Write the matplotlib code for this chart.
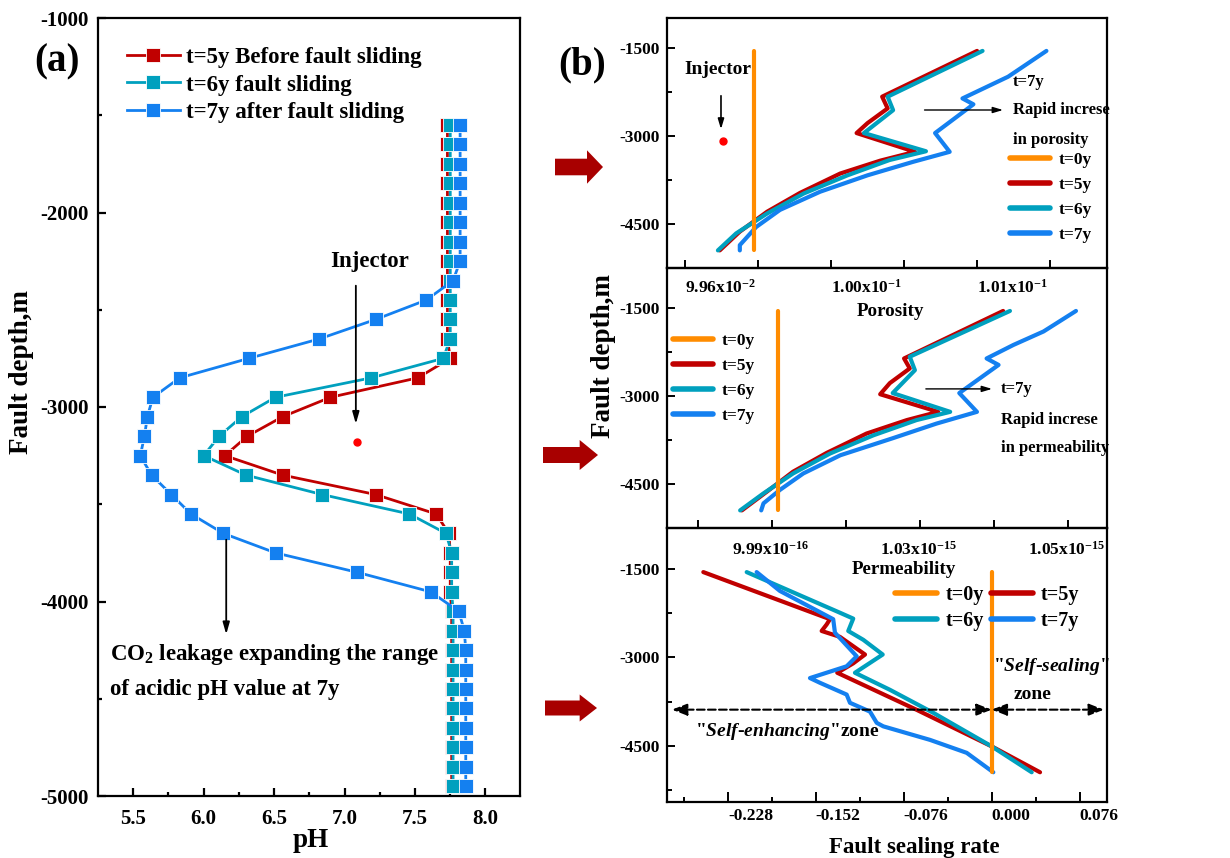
import matplotlib
matplotlib.use("Agg")
import matplotlib.pyplot as plt
from matplotlib.patches import FancyArrow

"""
pH profile along the fault (a) and porosity / permeability / sealing rate (b)
"""

plt.rcParams["font.family"] = ["Liberation Serif", "DejaVu Serif"]
plt.rcParams["font.weight"] = "bold"
plt.rcParams["mathtext.fontset"] = "custom"
plt.rcParams["mathtext.rm"] = "Liberation Serif:bold"
plt.rcParams["mathtext.it"] = "Liberation Serif:italic:bold"
plt.rcParams["mathtext.bf"] = "Liberation Serif:bold"
plt.rcParams["axes.linewidth"] = 1.6
plt.rcParams["axes.unicode_minus"] = False

RED = "#C00000"
CYAN = "#00A0BE"
BLUE = "#1480F0"
ORANGE = "#FF8C00"

# ---------------- panel (a): pH vs fault depth
depth_a = [-1550, -1650, -1750, -1850, -1950, -2050, -2150, -2250, -2350, -2450,
           -2550, -2650, -2750, -2850, -2950, -3050, -3150, -3250, -3350, -3450,
           -3550, -3650, -3750, -3850, -3950, -4050, -4150, -4250, -4350, -4450,
           -4550, -4650, -4750, -4850, -4950]
ph_t5 = [7.73, 7.73, 7.73, 7.73, 7.73, 7.73, 7.73, 7.73, 7.73, 7.73,
         7.73, 7.73, 7.75, 7.52, 6.90, 6.56, 6.31, 6.15, 6.56, 7.22,
         7.65, 7.74, 7.75, 7.75, 7.75, 7.76, 7.76, 7.76, 7.76, 7.76,
         7.76, 7.76, 7.76, 7.76, 7.76]
ph_t6 = [7.75, 7.75, 7.75, 7.75, 7.75, 7.75, 7.75, 7.75, 7.75, 7.75,
         7.75, 7.75, 7.70, 7.19, 6.51, 6.27, 6.11, 6.00, 6.30, 6.84,
         7.46, 7.72, 7.76, 7.76, 7.76, 7.77, 7.77, 7.77, 7.77, 7.77,
         7.77, 7.77, 7.77, 7.77, 7.77]
ph_t7 = [7.82, 7.82, 7.82, 7.82, 7.82, 7.82, 7.82, 7.82, 7.77, 7.58,
         7.22, 6.82, 6.32, 5.83, 5.64, 5.60, 5.58, 5.55, 5.63, 5.77,
         5.91, 6.14, 6.51, 7.09, 7.61, 7.81, 7.85, 7.86, 7.86, 7.86,
         7.86, 7.86, 7.86, 7.86, 7.86]
inj_ph, inj_depth = 7.09, -3180
labels_a = ["t=5y Before fault sliding", "t=6y fault sliding", "t=7y after fault sliding"]

# ---------------- panel (b) top: porosity
por_t0 = 0.09998
por_d5 = [-1550, -2330, -2530, -2780, -2950, -3270, -3420, -3640, -3970, -4290, -4630, -4950]
por_t5 = [0.10120, 0.10068, 0.10071, 0.10060, 0.10054, 0.10086, 0.10067, 0.10045,
          0.10023, 0.10005, 0.09990, 0.09979]
por_d6 = [-1550, -2330, -2560, -2950, -3260, -3410, -3670, -3980, -4320, -4660, -4950]
por_t6 = [0.10123, 0.10071, 0.10074, 0.10058, 0.10092, 0.10072, 0.10049, 0.10025,
          0.10005, 0.09988, 0.09978]
por_d7 = [-1550, -1990, -2360, -2460, -2950, -3270, -3440, -3670, -3950, -4260, -4550, -4860, -4950]
por_t7 = [0.10158, 0.10137, 0.10112, 0.10118, 0.10097, 0.10105, 0.10085, 0.10060,
          0.10034, 0.10012, 0.09999, 0.09990, 0.09990]
inj_por, inj_depth_b = 0.09981, -3085

# ---------------- panel (b) middle: permeability (x1e-15 m2)
perm_t0 = 1.000
perm_d5 = [-1550, -2360, -2530, -2780, -2970, -3270, -3410, -3640, -3970, -4290, -4630, -4950]
perm_t5 = [1.0396, 1.0222, 1.0232, 1.0197, 1.0180, 1.0282, 1.0227, 1.0156, 1.0086,
           1.0027, 0.9981, 0.9937]
perm_d6 = [-1550, -2330, -2560, -2950, -3270, -3410, -3670, -3980, -4320, -4660, -4950]
perm_t6 = [1.0408, 1.0232, 1.0241, 1.0202, 1.0303, 1.0244, 1.0168, 1.0092, 1.0027,
           0.9975, 0.9934]
perm_d7 = [-1550, -1900, -2130, -2360, -2470, -2950, -3270, -3470, -3720, -4010,
           -4320, -4600, -4830, -4950]
perm_t7 = [1.0524, 1.0467, 1.0414, 1.0367, 1.0388, 1.0319, 1.0350, 1.0279, 1.0202,
           1.0110, 1.0045, 1.0004, 0.9975, 0.9971]

# ---------------- panel (b) bottom: fault sealing rate
seal_t0 = 0.0
seal_d5 = [-1550, -2350, -2440, -2550, -2650, -2950, -3100, -3260, -3890, -4510, -4950]
seal_t5 = [-0.2493, -0.1398, -0.1427, -0.1470, -0.1312, -0.1095, -0.1197, -0.1335,
           -0.0648, 0.0000, 0.0418]
seal_d6 = [-1550, -2240, -2340, -2550, -2700, -2950, -3260, -3550, -3940, -4510, -4950]
seal_t6 = [-0.2118, -0.1312, -0.1197, -0.1240, -0.1110, -0.0942, -0.1182, -0.0879,
           -0.0505, 0.0000, 0.0346]
seal_d7 = [-1550, -1870, -2350, -2580, -2980, -3150, -3350, -3430, -3630, -3770,
           -3920, -4110, -4170, -4400, -4620, -4950]
seal_t7 = [-0.2032, -0.1831, -0.1370, -0.1355, -0.1167, -0.1254, -0.1571, -0.1485,
           -0.1254, -0.1225, -0.1052, -0.0994, -0.0937, -0.0533, -0.0216, 0.0014]

t0_depth = [-1550, -4950]

W, H = 1230, 858
fig = plt.figure(figsize=(W / 100, H / 100), dpi=100)
inch = fig.dpi_scale_trans


def add_ax(l, t, r, b):
    ax = fig.add_axes([l / W, (H - b) / H, (r - l) / W, (b - t) / H])
    ax.set_facecolor("none")
    return ax


def px(x, y):
    return x / 100.0, (H - y) / 100.0


# ================= panel (a)
axa = add_ax(98, 18, 520, 796)
for ph, col, lab in zip([ph_t5, ph_t6, ph_t7], [RED, CYAN, BLUE], labels_a):
    axa.plot(ph, depth_a, "-s", color=col, lw=2, ms=9.5, mec="white", mew=0.6, label=lab)
axa.plot(inj_ph, inj_depth, "o", color="red", ms=5)
axa.set_xlim(5.25, 8.245)
axa.set_ylim(-5000, -1000)
axa.set_xticks([5.5, 6.0, 6.5, 7.0, 7.5, 8.0])
axa.set_xticks([5.75, 6.25, 6.75, 7.25, 7.75], minor=True)
axa.set_yticks([-5000, -4000, -3000, -2000, -1000])
axa.set_yticks([-4500, -3500, -2500, -1500], minor=True)
axa.tick_params(which="both", direction="in", labelsize=15, width=1.6)
axa.tick_params(which="major", length=6)
axa.tick_params(which="minor", length=3)
axa.tick_params(axis="y", pad=7)
axa.tick_params(axis="x", pad=9)
axa.legend(loc="upper left", bbox_to_anchor=(0.0687, 0.963), frameon=False, fontsize=16.5,
           handlelength=2.3, handletextpad=0.26, labelspacing=0.29, borderpad=0,
           borderaxespad=0, numpoints=1)
axa.text(7.18, -2254, "Injector", fontsize=16.5, ha="center", va="center")
axa.annotate("", xy=(7.08, -3101), xytext=(7.08, -2362),
             arrowprops=dict(arrowstyle="-|>,head_length=0.7,head_width=0.2", color="black", lw=1.3))
axa.annotate("", xy=(6.16, -4183), xytext=(6.16, -3668),
             arrowprops=dict(arrowstyle="-|>,head_length=0.7,head_width=0.2", color="black", lw=1.3))
axa.text(5.337, -4275, "CO$_2$ leakage expanding the range", fontsize=16.5, ha="left", va="center")
axa.text(5.337, -4455, "of acidic pH value at 7y", fontsize=16.5, ha="left", va="center")

# ================= panel (b) common
lw_b = 3
axb1 = add_ax(667, 18, 1107, 268)
axb2 = add_ax(667, 268, 1107, 528)
axb3 = add_ax(667, 528, 1107, 802)
for ax in (axb1, axb2, axb3):
    ax.set_yticks([-4500, -3000, -1500])
    ax.set_yticks([-5250, -3750, -2250], minor=True)
    ax.tick_params(which="both", direction="in", labelsize=12.5, width=1.4)
    ax.tick_params(axis="y", which="major", length=6, pad=5)
    ax.tick_params(axis="y", which="minor", length=3.5)

# top: porosity
axb1.plot(por_t5, por_d5, color=RED, lw=lw_b, solid_capstyle="round")
axb1.plot(por_t6, por_d6, color=CYAN, lw=lw_b, solid_capstyle="round")
axb1.plot(por_t7, por_d7, color=BLUE, lw=lw_b, solid_capstyle="round")
axb1.plot([por_t0, por_t0], t0_depth, color=ORANGE, lw=lw_b, solid_capstyle="round")
axb1.plot(inj_por, inj_depth_b, "o", color="red", ms=5)
axb1.set_xlim(0.099501, 0.101912)
axb1.set_ylim(-5250, -989)
axb1.set_xticks([0.0996, 0.1004, 0.1012],
                [r"9.96x10$^{-2}$", r"1.00x10$^{-1}$", r"1.01x10$^{-1}$"])
axb1.set_xticks([0.1000, 0.1008, 0.1016], minor=True)
axb1.tick_params(axis="x", which="both", length=6, pad=8)
for t in axb1.get_xticklabels():
    t.set_ha("left")
h0, = axb1.plot([], [], color=ORANGE, lw=4, solid_capstyle="round")
h5, = axb1.plot([], [], color=RED, lw=4, solid_capstyle="round")
h6, = axb1.plot([], [], color=CYAN, lw=4, solid_capstyle="round")
h7, = axb1.plot([], [], color=BLUE, lw=4, solid_capstyle="round")
tlabels = ["t=0y", "t=5y", "t=6y", "t=7y"]
axb1.legend([h0, h5, h6, h7], tlabels, loc="upper left", bbox_to_anchor=(0.78, 0.464),
            frameon=False, fontsize=12.5, handlelength=2.3, handletextpad=0.5,
            labelspacing=0.5, borderpad=0, borderaxespad=0)
axb1.text(0.116, 0.796, "Injector", transform=axb1.transAxes, fontsize=14, ha="center", va="center")
axb1.annotate("", xy=(0.1227, 0.544), xytext=(0.1227, 0.70), xycoords="axes fraction",
              arrowprops=dict(arrowstyle="-|>,head_length=0.6,head_width=0.18", color="black", lw=1.2))
axb1.annotate("", xy=(0.770, 0.632), xytext=(0.579, 0.632), xycoords="axes fraction",
              arrowprops=dict(arrowstyle="-|>,head_length=0.6,head_width=0.18", color="black", lw=1.0))
axb1.text(0.786, 0.744, "t=7y", transform=axb1.transAxes, fontsize=12, va="center")
axb1.text(0.786, 0.632, "Rapid increse", transform=axb1.transAxes, fontsize=12, va="center")
axb1.text(0.786, 0.512, "in porosity", transform=axb1.transAxes, fontsize=12, va="center")

# middle: permeability
axb2.plot(perm_t5, perm_d5, color=RED, lw=lw_b, solid_capstyle="round")
axb2.plot(perm_t6, perm_d6, color=CYAN, lw=lw_b, solid_capstyle="round")
axb2.plot(perm_t7, perm_d7, color=BLUE, lw=lw_b, solid_capstyle="round")
axb2.plot([perm_t0, perm_t0], t0_depth, color=ORANGE, lw=lw_b, solid_capstyle="round")
axb2.set_xlim(0.98055, 1.05785)
axb2.set_ylim(-5250, -818)
axb2.set_xticks([0.9920, 1.0180, 1.0440],
                [r"9.99x10$^{-16}$", r"1.03x10$^{-15}$", r"1.05x10$^{-15}$"])
axb2.set_xticks([0.986, 0.999, 1.012, 1.025, 1.038, 1.051], minor=True)
axb2.tick_params(axis="x", which="major", length=0, pad=9)
axb2.tick_params(axis="x", which="minor", length=6)
for t in axb2.get_xticklabels():
    t.set_ha("left")
axb2.legend([h0, h5, h6, h7], tlabels, loc="upper left", bbox_to_anchor=(0.0136, 0.75),
            frameon=False, fontsize=12.5, handlelength=2.3, handletextpad=0.5,
            labelspacing=0.5, borderpad=0, borderaxespad=0)
axb2.annotate("", xy=(0.745, 0.535), xytext=(0.582, 0.535), xycoords="axes fraction",
              arrowprops=dict(arrowstyle="-|>,head_length=0.6,head_width=0.18", color="black", lw=1.0))
axb2.text(0.759, 0.535, "t=7y", transform=axb2.transAxes, fontsize=12, va="center")
axb2.text(0.759, 0.415, "Rapid increse", transform=axb2.transAxes, fontsize=12, va="center")
axb2.text(0.759, 0.308, "in permeability", transform=axb2.transAxes, fontsize=12, va="center")

# bottom: fault sealing rate
axb3.plot(seal_t5, seal_d5, color=RED, lw=lw_b, solid_capstyle="round")
axb3.plot(seal_t6, seal_d6, color=CYAN, lw=lw_b, solid_capstyle="round")
axb3.plot(seal_t7, seal_d7, color=BLUE, lw=lw_b, solid_capstyle="round")
axb3.plot([seal_t0, seal_t0], t0_depth, color=ORANGE, lw=lw_b, solid_capstyle="round")
axb3.set_xlim(-0.2807, 0.0997)
axb3.set_ylim(-5455, -801)
axb3.set_xticks([-0.228, -0.152, -0.076, 0.0, 0.076],
                ["-0.228", "-0.152", "-0.076", "0.000", "0.076"])
axb3.set_xticks([-0.266, -0.190, -0.114, -0.038, 0.038], minor=True)
axb3.tick_params(axis="x", which="major", length=7.5, pad=4)
axb3.tick_params(axis="x", which="minor", length=3.5)
for t in axb3.get_xticklabels():
    t.set_ha("left")
axb3.legend([h0, h6, h5, h7], ["t=0y", "t=6y", "t=5y", "t=7y"], ncol=2, loc="upper left",
            bbox_to_anchor=(0.518, 0.791), frameon=False, fontsize=14.5, handlelength=2.1,
            handletextpad=0.4, labelspacing=0.3, columnspacing=0.35, borderpad=0,
            borderaxespad=0)
dash_arrow = dict(arrowstyle="<|-|>,head_length=0.9,head_width=0.35", color="black",
                  lw=1.5, ls="--", shrinkA=0, shrinkB=0)
axb3.annotate("", xy=(0.0, 0.337), xytext=(-0.2764, 0.337),
              xycoords=("data", "axes fraction"), textcoords=("data", "axes fraction"),
              arrowprops=dash_arrow)
axb3.annotate("", xy=(0.0971, 0.337), xytext=(0.0, 0.337),
              xycoords=("data", "axes fraction"), textcoords=("data", "axes fraction"),
              arrowprops=dash_arrow)
axb3.text(0.064, 0.256, r'"$\mathit{Self}$-$\mathit{enhancing}$"zone', transform=axb3.transAxes,
          fontsize=14, ha="left", va="center")
axb3.text(0.873, 0.495, r'"$\mathit{Self}$-$\mathit{sealing}$"', transform=axb3.transAxes,
          fontsize=14, ha="center", va="center")
axb3.text(0.830, 0.392, "zone", transform=axb3.transAxes, fontsize=14, ha="center", va="center")

# ================= figure-level text
fig.text(*px(57, 62), "(a)", transform=inch, fontsize=28, ha="center", va="center")
fig.text(*px(582, 65), "(b)", transform=inch, fontsize=28, ha="center", va="center")
fig.text(*px(22, 372), "Fault depth,m", transform=inch, fontsize=19.5, rotation=90,
         ha="center", va="center")
fig.text(*px(603, 356), "Fault depth,m", transform=inch, fontsize=19.5, rotation=90,
         ha="center", va="center")
fig.text(*px(311, 847), "pH", transform=inch, fontsize=19.5, ha="center", va="baseline")
fig.text(*px(914, 853), "Fault sealing rate", transform=inch, fontsize=16.5, ha="center",
         va="baseline")
fig.text(*px(890, 311), "Porosity", transform=inch, fontsize=13.7, ha="center", va="center")
fig.text(*px(904, 570), "Permeability", transform=inch, fontsize=13.7, ha="center", va="center")

# big red arrows between the panels (tail x, tip x, centre y, body half, head half)
for x0, x1, yc, bh, hh in [(555, 603, 167, 8.3, 16.7), (543, 598, 455, 8, 15), (545, 597, 708, 7.5, 13.5)]:
    hl = (x1 - x0) / 3.0
    fig.patches.append(FancyArrow(x0 / 100, (H - yc) / 100, (x1 - x0) / 100, 0,
                                  width=2 * bh / 100, head_width=2 * hh / 100,
                                  head_length=hl / 100, length_includes_head=True,
                                  transform=inch, color="#A80000", lw=0))

fig.savefig("out.png", dpi=100, facecolor="white")
